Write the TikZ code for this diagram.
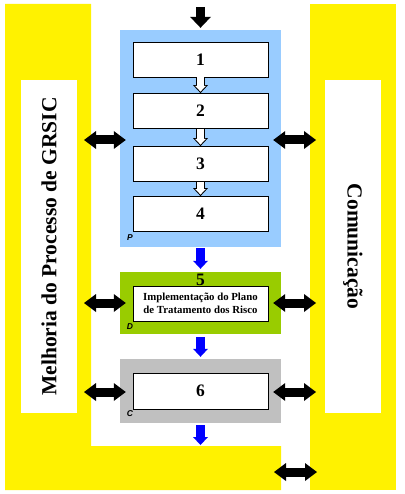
\documentclass[tikz,border=0pt]{standalone}
\usepackage{fontspec}
\setmainfont{Liberation Serif}
\setsansfont{Liberation Sans}
\usetikzlibrary{arrows.meta}
\definecolor{planblue}{HTML}{99CCFF}
\definecolor{dogreen}{HTML}{99CC00}
\definecolor{checkgray}{HTML}{C0C0C0}

\begin{document}
\begin{tikzpicture}[x = 1pt, y = -1pt,
    panel/.style = {fill=white, minimum width=333pt, minimum height=56pt, inner sep=0pt,
                    font=\fontsize{21.5}{24}\selectfont\bfseries},
    phase/.style = {minimum width=161pt, inner sep=0pt},
    stepbox/.style = {draw=black, line width=0.8pt, fill=white, minimum width=135pt,
                      minimum height=35pt, inner sep=0pt, font=\fontsize{17.5}{20}\selectfont\bfseries},
    tag/.style = {inner sep=0pt, font=\sffamily\bfseries\itshape\fontsize{8.5}{9}\selectfont},
    twoway/.style = {line width=9pt,
                     {Triangle[width=18pt,length=12pt,line width=0pt]}-{Triangle[width=18pt,length=12pt,line width=0pt]}},
    flow/.style = {line width=9pt, -{Triangle[width=15pt,length=8pt,line width=0pt]}},
    flowinner/.style = {line width=7pt, white, shorten >=1.5pt,
                        -{Triangle[width=10.5pt,length=5.6pt,line width=0pt]}}]
  \useasboundingbox (0,0) rectangle (404,494);
  % yellow frame
  \fill[yellow] (5,4) -- (91,4) -- (91,446) -- (281,446) -- (281,490) -- (5,490) -- cycle;
  \fill[yellow] (310,4) rectangle (396,490);
  \node [panel, rotate=90] (melhoria) at (49,246.5) {Melhoria do Processo de GRSIC};
  \node [panel, rotate=-90] (comunicacao) at (353,246.5) {Comunicação};
  % P
  \node [phase, fill=planblue, minimum height=217pt] (plan) at (200.5,138.5) {};
  \node [stepbox] (s1) at (200.5,59.5) {1};
  \node [stepbox] (s2) at (200.5,111) {2};
  \node [stepbox] (s3) at (200.5,164) {3};
  \node [stepbox] (s4) at (200.5,214) {4};
  \node [tag] (p) at (130,237.5) {P};
  % D
  \node [phase, fill=dogreen, minimum height=62pt] (do) at (200.5,303) {};
  \node [stepbox, align=center, font=\fontsize{10.8}{13}\selectfont\bfseries] (s5) at (200.5,303.5)
        {Implementação do Plano\\de Tratamento dos Risco};
  \node [anchor=base, inner sep=0pt, font=\fontsize{17.5}{20}\selectfont\bfseries] (n5) at (200.5,285) {5};
  \node [tag] (d) at (130,326.5) {D};
  % C
  \node [phase, fill=checkgray, minimum height=64pt] (check) at (200.5,391) {};
  \node [stepbox, minimum height=36pt] (s6) at (200.5,391) {6};
  \node [tag] (c) at (130,414) {C};
  % arrows
  \coordinate (entry) at (200.5,7);
  \coordinate (exit) at (200.5,445);
  \draw [line width=9pt, -{Triangle[width=21pt,length=11pt,line width=0pt]}, shorten >=2pt] (entry) -- (plan.north);
  \foreach \a/\b in {s1/s2, s2/s3, s3/s4} {
    \draw [flow, black] (\a.south) -- (\b.north);
    \draw [flowinner] (\a.south) -- (\b.north);
  }
  \draw [flow, blue, shorten <=1pt, shorten >=3pt] (plan.south) -- (do.north);
  \draw [flow, blue, shorten <=3pt, shorten >=2pt] (do.south) -- (check.north);
  \draw [flow, blue, shorten <=2pt] (check.south) -- (exit);
  \coordinate (pl) at (84,140); \coordinate (pr) at (316,140);
  \coordinate (dl) at (84,303); \coordinate (dr) at (316,303);
  \coordinate (cl) at (84,392); \coordinate (cr) at (316,392);
  \coordinate (bl) at (274,472); \coordinate (br) at (317,472);
  \draw [twoway] (pl) -- ([xshift=6pt]plan.west |- pl);
  \draw [twoway] ([xshift=-8pt]plan.east |- pr) -- (pr);
  \draw [twoway] (dl) -- ([xshift=6pt]do.west |- dl);
  \draw [twoway] ([xshift=-8pt]do.east |- dr) -- (dr);
  \draw [twoway] (cl) -- ([xshift=6pt]check.west |- cl);
  \draw [twoway] ([xshift=-8pt]check.east |- cr) -- (cr);
  \draw [twoway] (bl) -- (br);
\end{tikzpicture}
\end{document}
